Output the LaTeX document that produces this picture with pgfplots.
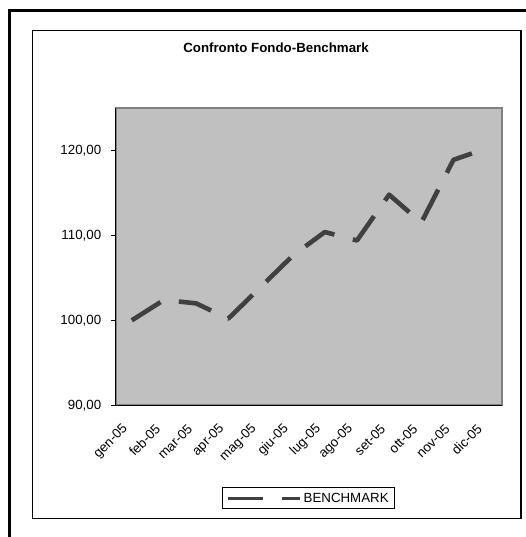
\documentclass[border=0pt]{standalone}
\usepackage{pgfplots}
\pgfplotsset{compat=1.18}
\usepackage{fontspec}
\setmainfont{Liberation Sans}
\definecolor{plotbg}{HTML}{C0C0C0}
\definecolor{plotframe}{HTML}{808080}
\definecolor{linec}{HTML}{404040}
\begin{document}
\begin{tikzpicture}[x=1pt,y=1pt]
\useasboundingbox (0,0) rectangle (526,537);
\fill[white] (0,0) rectangle (526,537);
\draw[line width=3.3pt] (9.2,0) -- (9.2,526.5) -- (526,526.5);
\draw[line width=1.2pt] (32.7,18.7) rectangle (521,506.3);
\begin{axis}[
  at={(115.7pt,131.7pt)}, anchor=south west,
  scale only axis, width=386pt, height=297.3pt,
  xmin=-0.5, xmax=11.5, ymin=90, ymax=125,
  axis lines*=left,
  axis line style={line width=1.3pt, black},
  axis background/.style={fill=plotbg, draw=plotframe, line width=2pt},
  font=\fontsize{13.3}{16}\selectfont,
  xtick={0,...,11},
  xticklabels={gen-05,feb-05,mar-05,apr-05,mag-05,giu-05,lug-05,ago-05,set-05,ott-05,nov-05,dic-05},
  minor xtick={-0.5,0.5,1.5,2.5,3.5,4.5,5.5,6.5,7.5,8.5,9.5,10.5,11.5},
  xtick style={draw=none},
  minor x tick style={line width=1pt, black},
  ytick={90,100,110,120},
  yticklabels={{90,00},{100,00},{110,00},{120,00}},
  ytick style={line width=1pt, black},
  tick align=outside,
  major tick length=4.5pt, minor tick length=4.5pt,
  xticklabel style={xshift=-6pt, yshift=-17pt, rotate=45, anchor=east, inner sep=0pt},
  yticklabel style={xshift=-6.5pt},
  title={\bfseries Confronto Fondo-Benchmark},
  title style={at={(0.4153,1.1672)}, anchor=base, inner sep=0pt},
  legend style={at={(0.4991,-0.313)}, anchor=center, draw=black, line width=1pt, fill=white,
    inner xsep=4pt, inner ysep=3pt, font=\fontsize{13.3}{16}\selectfont},
  legend image code/.code={\draw[linec, line width=3.6pt, dash pattern=on 35pt off 19pt, line cap=butt] (0pt,0pt) -- (72pt,0pt);},
]
\addplot[linec, line width=4.6pt, dash pattern=on 34pt off 19pt, line cap=butt, line join=round]
  coordinates {(0,100.0) (1,102.4) (2,102.0) (3,100.2) (4,103.9) (5,107.6) (6,110.4) (7,109.4) (8,114.8) (9,111.5) (10,118.9) (11,120.2)};
\addlegendentry{BENCHMARK}
\end{axis}
\end{tikzpicture}
\end{document}
